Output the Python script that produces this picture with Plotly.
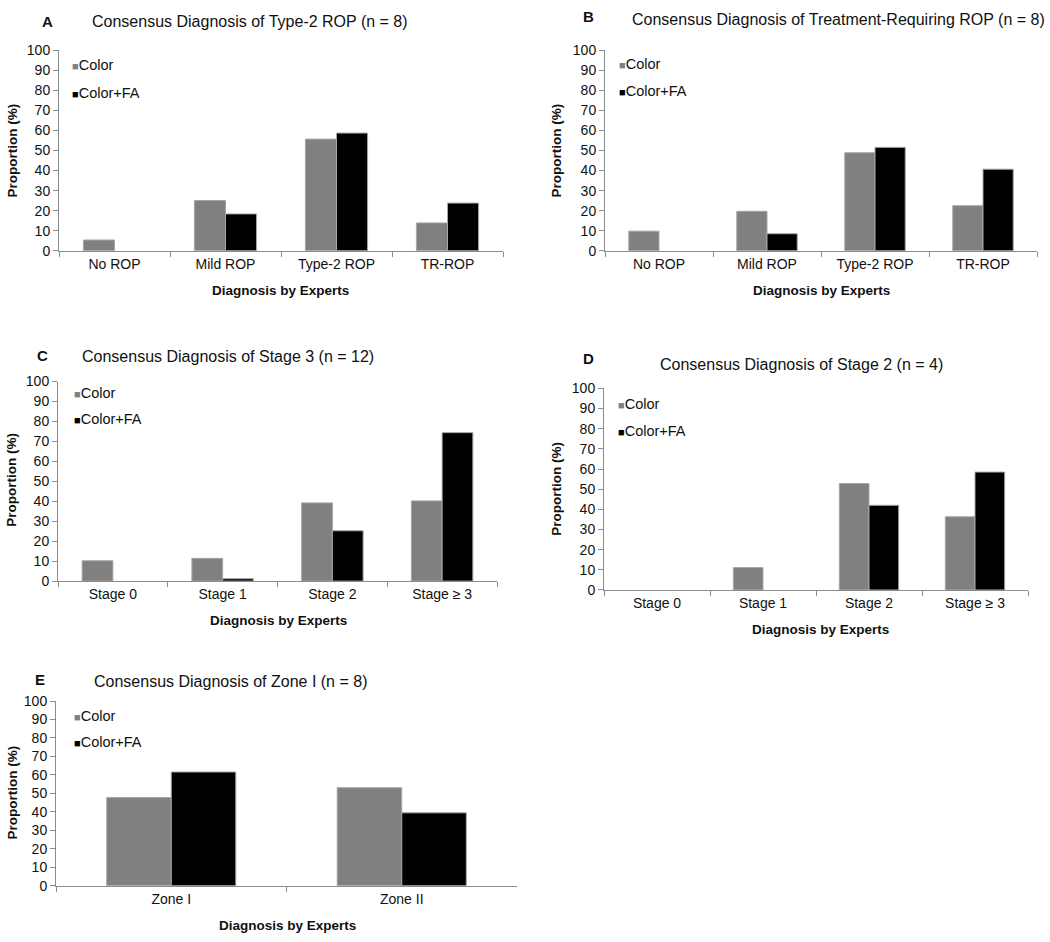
import plotly.graph_objects as go

W, H = 1050, 942

# ---- data ----
rop_cats = ["No ROP", "Mild ROP", "Type-2 ROP", "TR-ROP"]
stage_cats = ["Stage 0", "Stage 1", "Stage 2", "Stage ≥ 3"]
zone_cats = ["Zone I", "Zone II"]

a_color = [5.4, 25.1, 55.7, 13.9]
a_fa = [0, 18.4, 58.7, 23.8]
b_color = [9.8, 19.7, 48.9, 22.5]
b_fa = [0, 8.5, 51.6, 40.7]
c_color = [10.2, 11.4, 39.2, 40.2]
c_fa = [0, 1.2, 25.2, 74.4]
d_color = [0, 11.1, 52.8, 36.3]
d_fa = [0, 0, 42.0, 58.5]
e_color = [47.8, 53.1]
e_fa = [61.6, 39.5]

series_names = ["Color", "Color+FA"]
titles = [
    "Consensus Diagnosis of Type-2 ROP (n = 8)",
    "Consensus Diagnosis of Treatment-Requiring ROP (n = 8)",
    "Consensus Diagnosis of Stage 3 (n = 12)",
    "Consensus Diagnosis of Stage 2 (n = 4)",
    "Consensus Diagnosis of Zone I (n = 8)",
]
letters = ["A", "B", "C", "D", "E"]
y_ticks = list(range(0, 101, 10))

GRAY = "#808080"
BLACK = "#000000"
EDGE = "#a6a6a6"
AXIS = "#8c8c8c"
TXT = "#111111"
FONT = "Liberation Sans, Arial, sans-serif"

# panel layout in window pixels: box = (x0, x1, ytop, ybottom)
panels = [
    dict(cats=rop_cats, c=a_color, f=a_fa, box=(59, 503, 43, 247),
         letter=(47, 14), title=(90, 14), ytitle=(13, 145), xtitle=(280, 287),
         legend=(70, 58, 86)),
    dict(cats=rop_cats, c=b_color, f=b_fa, box=(605, 1037, 43, 247),
         letter=(588, 9), title=(630, 12), ytitle=(557, 145), xtitle=(821, 287),
         legend=(617, 57, 84)),
    dict(cats=stage_cats, c=c_color, f=c_fa, box=(58, 497, 380, 583),
         letter=(42, 353), title=(80, 355), ytitle=(12, 480), xtitle=(278, 623),
         legend=(72, 392, 418)),
    dict(cats=stage_cats, c=d_color, f=d_fa, box=(604, 1028, 387, 592),
         letter=(588, 357), title=(658, 363), ytitle=(557, 489), xtitle=(820, 632),
         legend=(616, 403, 430)),
    dict(cats=zone_cats, c=e_color, f=e_fa, box=(56, 517, 705, 893),
         letter=(40, 683), title=(92, 685), ytitle=(12, 798), xtitle=(287, 933),
         legend=(72, 720, 747)),
]

def px(x):
    return x / W

def py(y):
    return 1 - y / H

fig = go.Figure()
layout = dict(
    width=W, height=H,
    margin=dict(l=0, r=0, t=0, b=0),
    paper_bgcolor="white", plot_bgcolor="white",
    barmode="group", bargap=0.44, bargroupgap=0,
    font=dict(family=FONT, size=14, color=TXT),
    showlegend=False,
)
annotations = []

def ann(text, x, y, size, xanchor="center", angle=0):
    return dict(text=text, x=px(x), y=py(y), xref="paper", yref="paper",
                xanchor=xanchor, yanchor="middle", textangle=angle,
                showarrow=False, font=dict(size=size, color=TXT, family=FONT))

for i, p in enumerate(panels):
    n = "" if i == 0 else str(i + 1)
    xa, ya = "x" + n, "y" + n
    cols = (GRAY, BLACK)
    for name, vals, col in zip(series_names, (p["c"], p["f"]), cols):
        fig.add_trace(go.Bar(
            x=p["cats"], y=vals, name=name, xaxis=xa, yaxis=ya,
            marker=dict(color=col, line=dict(color=EDGE,
                                             width=[0 if v == 0 else 1 for v in vals])),
        ))
    x0, x1, yt, yb = p["box"]
    layout["xaxis" + n] = dict(
        domain=[px(x0), px(x1)], anchor=ya, type="category",
        showline=True, linecolor=AXIS, linewidth=1,
        ticks="outside", tickson="boundaries", ticklen=5, tickcolor=AXIS,
        tickfont=dict(size=14, color=TXT), showgrid=False, zeroline=False,
        fixedrange=True,
    )
    layout["yaxis" + n] = dict(
        domain=[py(yb), py(yt)], anchor=xa, range=[0, 100],
        tickvals=y_ticks, showline=True, linecolor=AXIS, linewidth=1,
        ticks="outside", ticklen=5, tickcolor=AXIS,
        tickfont=dict(size=14, color=TXT), showgrid=False, zeroline=False,
        fixedrange=True,
    )
    # legend entries (swatch + label)
    lx, ly1, ly2 = p["legend"]
    for name, col, ly in zip(series_names, cols, (ly1, ly2)):
        annotations.append(ann(
            f"<span style='color:{col};font-size:11px'>■</span>{name}",
            lx, ly, 14.5, xanchor="left"))
    annotations.append(ann(f"<b>{letters[i]}</b>", *p["letter"], 15))
    annotations.append(ann(titles[i], *p["title"], 16, xanchor="left"))
    annotations.append(ann("<b>Proportion (%)</b>", *p["ytitle"], 13.5, angle=-90))
    annotations.append(ann("<b>Diagnosis by Experts</b>", *p["xtitle"], 13.5))

layout["annotations"] = annotations
fig.update_layout(**layout)
# let the figure fill the window exactly (no default 8px page margin)
fig.write_html("out.html", config={"displayModeBar": False},
               post_script="document.body.style.margin='0';")
